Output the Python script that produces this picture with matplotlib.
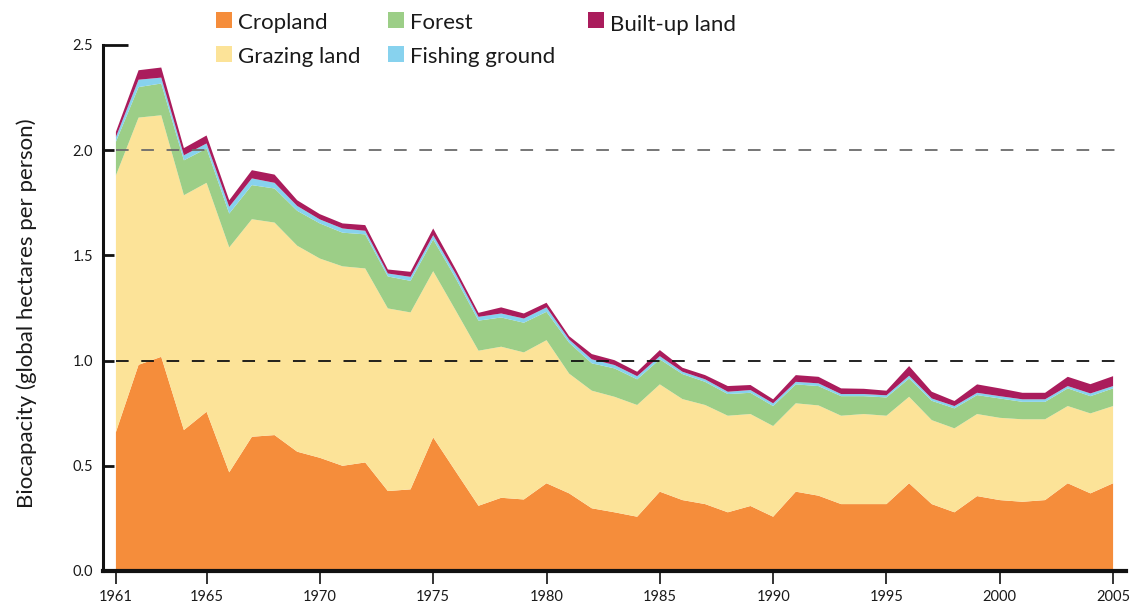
import numpy as np
import matplotlib
matplotlib.use("Agg")
import matplotlib.pyplot as plt
from matplotlib.patches import Rectangle

plt.rcParams['font.family'] = ['Lato', 'DejaVu Sans']

# biocapacity per person by land type (global hectares)
years = list(range(1961, 2006))
cropland = [0.66, 0.98, 1.018, 0.67, 0.757, 0.469, 0.638, 0.646, 0.567, 0.538,
            0.50, 0.516, 0.38, 0.388, 0.635, 0.472, 0.31, 0.348, 0.34, 0.417,
            0.369, 0.298, 0.279, 0.258, 0.377, 0.337, 0.318, 0.279, 0.309, 0.258,
            0.377, 0.358, 0.318, 0.318, 0.318, 0.417, 0.318, 0.279, 0.356, 0.337,
            0.329, 0.337, 0.417, 0.369, 0.417]
grazing = [1.22, 1.175, 1.148, 1.116, 1.088, 1.069, 1.034, 1.01, 0.979, 0.947,
           0.948, 0.922, 0.868, 0.841, 0.79, 0.765, 0.737, 0.718, 0.699, 0.68,
           0.569, 0.559, 0.549, 0.531, 0.51, 0.48, 0.471, 0.459, 0.437, 0.431,
           0.42, 0.429, 0.42, 0.428, 0.42, 0.411, 0.399, 0.399, 0.39, 0.391,
           0.392, 0.384, 0.367, 0.38, 0.367]
forest = [0.16, 0.145, 0.151, 0.166, 0.163, 0.161, 0.162, 0.162, 0.166, 0.167,
          0.16, 0.162, 0.152, 0.15, 0.151, 0.153, 0.143, 0.139, 0.141, 0.135,
          0.147, 0.13, 0.135, 0.122, 0.119, 0.119, 0.11, 0.103, 0.101, 0.095,
          0.09, 0.092, 0.093, 0.085, 0.087, 0.087, 0.092, 0.095, 0.09, 0.092,
          0.083, 0.083, 0.084, 0.082, 0.084]
fishing = [0.023, 0.035, 0.028, 0.024, 0.024, 0.032, 0.032, 0.027, 0.023, 0.019,
           0.02, 0.017, 0.014, 0.019, 0.02, 0.021, 0.018, 0.019, 0.02, 0.021,
           0.015, 0.019, 0.016, 0.015, 0.015, 0.011, 0.012, 0.011, 0.013, 0.013,
           0.012, 0.013, 0.01, 0.01, 0.01, 0.013, 0.011, 0.011, 0.011, 0.011,
           0.012, 0.012, 0.011, 0.013, 0.011]
builtup = [0.024, 0.045, 0.048, 0.034, 0.038, 0.031, 0.039, 0.039, 0.027, 0.025,
           0.024, 0.027, 0.019, 0.024, 0.032, 0.022, 0.019, 0.029, 0.024, 0.022,
           0.016, 0.025, 0.023, 0.021, 0.029, 0.019, 0.02, 0.027, 0.024, 0.019,
           0.032, 0.031, 0.027, 0.025, 0.022, 0.046, 0.032, 0.024, 0.04, 0.037,
           0.031, 0.031, 0.044, 0.044, 0.047]

labels = ["Cropland", "Grazing land", "Forest", "Fishing ground", "Built-up land"]
colors = ["#F58D3B", "#FCE398", "#9CCE87", "#87D2EE", "#AA1C5C"]
xticks = [1961, 1965, 1970, 1975, 1980, 1985, 1990, 1995, 2000, 2005]
yticks = [0.0, 0.5, 1.0, 1.5, 2.0, 2.5]
ref_lines = [1.0, 2.0]

W, H = 1132, 608
fig = plt.figure(figsize=(W / 100, H / 100), dpi=100)
ax = fig.add_axes([103 / W, 1 - 571 / H, (1126 - 103) / W, (571 - 45) / H])

ax.stackplot(years, cropland, grazing, forest, fishing, builtup,
             colors=colors, linewidth=0, antialiased=True)

ax.hlines(ref_lines[1], years[0], years[-1] + 0.15, colors="#6b6b6b", linewidth=1.3,
          linestyles=(0, (7, 7)), zorder=5)
ax.hlines(ref_lines[0], years[0], years[-1] + 0.15, colors="#111111", linewidth=1.3,
          linestyles=(0, (7, 7)), zorder=5)

ax.set_xlim(1960.43, 2005.57)
ax.set_ylim(0, 2.5)

for s in ["top", "right"]:
    ax.spines[s].set_visible(False)
ax.spines["left"].set_linewidth(2.2)
ax.spines["bottom"].set_linewidth(3)
ax.spines["left"].set_color("#111111")
ax.spines["bottom"].set_color("#111111")

ax.set_xticks(xticks)
ax.set_xticklabels([str(y) for y in xticks])
ax.set_yticks(yticks)
ax.set_yticklabels([f"{v:.1f}" for v in yticks])
ax.tick_params(axis="x", direction="out", length=9, width=1.4, color="#333333",
               labelsize=10.5, pad=5, labelcolor="#1a1a1a")
ax.tick_params(axis="y", direction="in", length=8, width=2, color="#111111",
               labelsize=10.5, pad=7, labelcolor="#1a1a1a")
# longer cap tick at the top of the axis
ax.yaxis.get_major_ticks()[-1].tick1line.set_markersize(18)

fig.text(27 / W, 1 - 313 / H, "Biocapacity (global hectares per person)",
         rotation=90, ha="center", va="center", fontsize=16, color="#1a1a1a")

# legend drawn by hand to match the reference layout
legend_pos = [(216, 12), (216, 46), (388, 12), (388, 46), (588, 12)]
for (px, py), lab, col in zip(legend_pos, labels, colors):
    fig.add_artist(Rectangle((px / W, 1 - (py + 16) / H), 16 / W, 16 / H,
                             transform=fig.transFigure, facecolor=col,
                             edgecolor="none"))
    base = py + 17 if lab != "Built-up land" else py + 19
    fig.text((px + 22) / W, 1 - base / H, lab, ha="left", va="baseline",
             fontsize=16, color="#1a1a1a")

fig.savefig("out.png", dpi=100)
